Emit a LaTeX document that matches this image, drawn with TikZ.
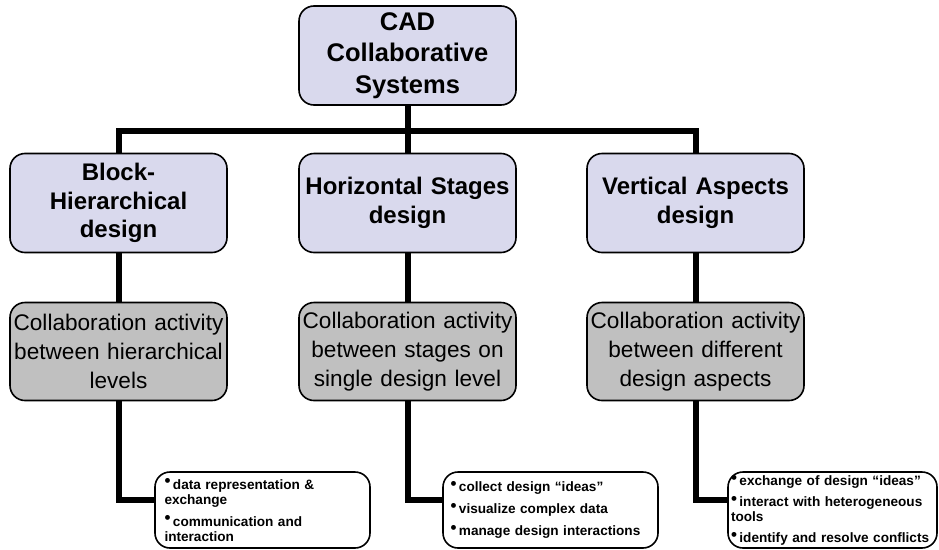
\documentclass[tikz,border=0pt]{standalone}
\usepackage{fontspec}
\setmainfont{Liberation Sans}
\usetikzlibrary{backgrounds}
\definecolor{lav}{RGB}{217,217,237}
\definecolor{grayf}{RGB}{192,192,192}
\newcommand{\mybul}{\raisebox{2.2pt}{\fontsize{17}{17}\selectfont\textbullet}\hspace{2.5pt}}
\newcommand{\nohyph}{\hyphenpenalty=10000 \exhyphenpenalty=10000\relax}
\begin{document}
\begin{tikzpicture}[x=1pt,y=-1pt,
  headbox/.style={draw=black, line width=1.6pt, rounded corners=15pt, fill=lav,
    align=center, inner sep=0pt, font=\bfseries\fontsize{24}{28.5}\selectfont},
  graybox/.style={draw=black, line width=1.6pt, rounded corners=15pt, fill=grayf,
    align=center, inner sep=0pt, font=\fontsize{22.6}{29}\selectfont},
  listbox/.style={draw=black, line width=1.6pt, rounded corners=15pt, fill=white,
    align=left, inner xsep=3pt, inner ysep=0pt,
    font=\bfseries\fontsize{13.6}{15}\selectfont\nohyph},
  link/.style={line width=6pt, line join=miter}]
\useasboundingbox (0,0) rectangle (939,549);

\node[headbox, minimum width=217pt, minimum height=99pt, text width=210pt,
  font=\bfseries\fontsize{25.5}{31.5}\selectfont] (top) at (407.5,55.5) {CAD\\Collaborative\\Systems};

\node[headbox, minimum width=217pt, minimum height=99pt, text width=210pt] (l1) at (118.5,203) {Block-\\Hierarchical\\design};
\node[headbox, minimum width=217pt, minimum height=99pt, text width=214pt] (l2) at (407.5,203) {Horizontal Stages\\design};
\node[headbox, minimum width=217pt, minimum height=99pt, text width=210pt] (l3) at (695.5,203) {Vertical Aspects\\design};

\node[graybox, minimum width=217pt, minimum height=98pt, text width=214pt] (g1) at (118.5,351.5) {Collaboration activity\\between hierarchical\\levels};
\node[graybox, minimum width=217pt, minimum height=98pt, text width=214pt] (g2) at (407.5,351.5) {Collaboration activity\\between stages on\\single design level};
\node[graybox, minimum width=217pt, minimum height=98pt, text width=214pt] (g3) at (695.5,351.5) {Collaboration activity\\between different\\design aspects};

\node[listbox, minimum width=215pt, minimum height=76pt, text width=196pt] (b1) at (262.5,510)
  {\mybul data representation \& exchange\\[7pt]\mybul communication and interaction};
\node[listbox, minimum width=215pt, minimum height=76pt, text width=200pt] (b2) at (550.5,510)
  {\mybul collect design “ideas”\\[7pt]\mybul visualize complex data\\[7pt]\mybul manage design interactions};
\node[listbox, minimum width=209pt, minimum height=76pt, text width=203pt] (b3) at (832.5,510)
  {\mybul exchange of design “ideas”\\[6pt]\mybul interact with heterogeneous tools\\[6pt]\mybul identify and resolve conflicts};

\coordinate (bus) at (0,131);
\coordinate (hb) at (0,500);
\begin{pgfonlayer}{background}
\draw[link] (top.south) -- (top.south |- bus);
\draw[link] (l1.north) -- (l1.north |- bus) -- (l3.north |- bus) -- (l3.north);
\draw[link] (l2.north) -- (l2.north |- bus);
\draw[link] (l1.south) -- (g1.north);
\draw[link] (l2.south) -- (g2.north);
\draw[link] (l3.south) -- (g3.north);
\draw[link] (g1.south) -- (g1.south |- hb) -- (b1.west |- hb);
\draw[link] (g2.south) -- (g2.south |- hb) -- (b2.west |- hb);
\draw[link] (g3.south) -- (g3.south |- hb) -- (b3.west |- hb);
\end{pgfonlayer}
\end{tikzpicture}
\end{document}
